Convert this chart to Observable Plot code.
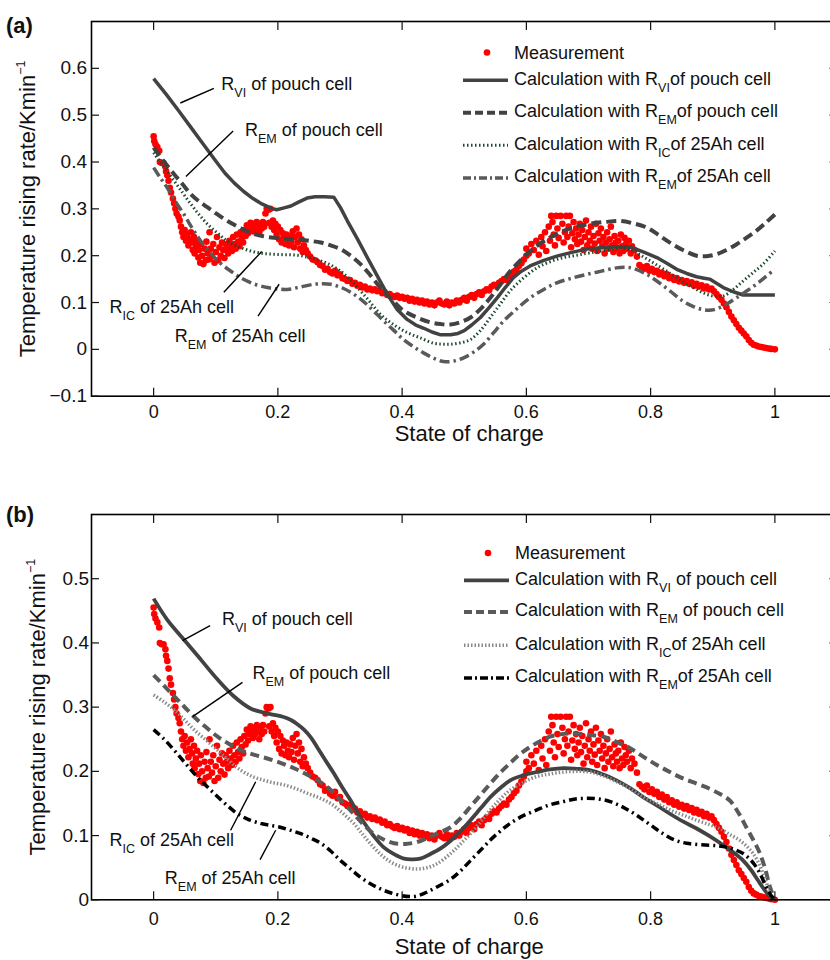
<!DOCTYPE html>
<html><head><meta charset="utf-8">
<script src="https://cdn.jsdelivr.net/npm/d3@7"></script>
<script src="https://cdn.jsdelivr.net/npm/@observablehq/plot@0.6"></script>
<style>
html,body{margin:0;padding:0;background:#fff;overflow:hidden;width:830px;height:960px}
#chart{position:relative;width:850px}
#chart svg{display:block;max-width:none}
</style></head><body><div id="chart"></div>
<script>
// ---------- data ----------
const X_TICKS = [0, 0.2, 0.4, 0.6, 0.8, 1];
const Y_TICKS_A = [-0.1, 0, 0.1, 0.2, 0.3, 0.4, 0.5, 0.6];
const Y_TICKS_B = [0, 0.1, 0.2, 0.3, 0.4, 0.5];
const X_LABEL = "State of charge";
const Y_LABEL = "Temperature rising rate/Kmin^{−1}";
const PANEL_LABELS = ["(a)", "(b)"];
const LEGEND_A = ["Measurement", "Calculation with R_{VI}of pouch cell", "Calculation with R_{EM}of pouch cell", "Calculation with R_{IC}of 25Ah cell", "Calculation with R_{EM}of 25Ah cell"];
const LEGEND_B = ["Measurement", "Calculation with R_{VI} of pouch cell", "Calculation with R_{EM} of pouch cell", "Calculation with R_{IC}of 25Ah cell", "Calculation with R_{EM}of 25Ah cell"];

// measured temperature rising rate (same test, shown in both panels)
const measurement = [
[0.000,0.455],[0.001,0.445],[0.003,0.438],[0.006,0.432],[0.009,0.424],[0.010,0.400],[0.013,0.398],[0.016,0.398],[0.019,0.390],[0.020,0.380],[0.022,0.372],[0.024,0.360],[0.026,0.345],[0.028,0.335],[0.031,0.322],[0.033,0.312],[0.035,0.300],[0.037,0.290],[0.040,0.283],[0.042,0.275],
[0.044,0.262],[0.046,0.250],[0.048,0.240],[0.050,0.255],[0.052,0.232],[0.054,0.245],[0.056,0.222],[0.058,0.235],[0.060,0.250],[0.062,0.228],[0.063,0.212],[0.065,0.240],[0.066,0.205],[0.068,0.220],[0.070,0.232],[0.072,0.196],[0.073,0.212],[0.075,0.185],[0.076,0.225],[0.078,0.200],[0.080,0.182],[0.082,0.215],[0.084,0.190],[0.085,0.230],[0.087,0.205],[0.089,0.192],[0.090,0.250],[0.092,0.215],[0.094,0.198],[0.096,0.225],[0.098,0.185],[0.100,0.208],[0.102,0.240],[0.104,0.190],[0.106,0.218],[0.108,0.200],[0.110,0.228],[0.112,0.212],[0.114,0.195],[0.116,0.225],[0.118,0.215],[0.120,0.205],[0.122,0.232],[0.124,0.220],[0.126,0.210],[0.128,0.240],[0.130,0.225],
[0.132,0.215],[0.134,0.245],[0.136,0.230],[0.138,0.220],[0.140,0.250],[0.142,0.238],[0.144,0.228],[0.146,0.255],[0.148,0.242],[0.150,0.265],[0.152,0.248],[0.154,0.258],[0.156,0.270],[0.158,0.262],[0.160,0.252],[0.162,0.268],[0.164,0.258],[0.166,0.272],[0.168,0.262],[0.170,0.250],[0.172,0.268],[0.174,0.258],[0.176,0.272],[0.178,0.262],[0.180,0.290],[0.182,0.300],[0.185,0.298],[0.188,0.300],[0.186,0.270],[0.190,0.262],[0.192,0.275],[0.194,0.255],[0.196,0.268],[0.198,0.245],[0.200,0.262],[0.202,0.235],[0.204,0.255],[0.206,0.228],[0.208,0.248],[0.210,0.240],[0.212,0.225],[0.214,0.245],[0.216,0.232],[0.218,0.222],[0.220,0.242],[0.222,0.230],[0.224,0.252],[0.226,0.218],[0.228,0.240],[0.230,0.258],[0.232,0.228],[0.234,0.245],[0.236,0.215],[0.238,0.235],[0.240,0.208],[0.242,0.222],[0.245,0.212],[0.248,0.205],
[0.252,0.198],[0.256,0.192],[0.260,0.190],[0.264,0.186],[0.268,0.180],[0.272,0.178],[0.276,0.170],[0.280,0.172],[0.284,0.165],[0.288,0.162],[0.292,0.168],[0.296,0.158],[0.300,0.160],[0.304,0.152],[0.308,0.150],[0.312,0.146],[0.316,0.148],[0.320,0.140],[0.324,0.142],[0.328,0.136],[0.332,0.138],[0.336,0.132],[0.340,0.134],[0.344,0.128],[0.348,0.130],[0.352,0.126],[0.356,0.128],[0.360,0.124],[0.364,0.125],[0.368,0.120],[0.372,0.122],[0.376,0.116],[0.380,0.118],[0.384,0.114],[0.388,0.112],[0.392,0.115],[0.396,0.110],[0.400,0.112],[0.404,0.108],[0.408,0.110],[0.412,0.104],[0.416,0.108],[0.420,0.102],[0.424,0.106],[0.428,0.100],[0.432,0.104],[0.436,0.098],[0.440,0.102],[0.444,0.096],[0.448,0.100],
[0.452,0.094],[0.456,0.100],[0.460,0.104],[0.464,0.098],[0.468,0.096],[0.472,0.102],[0.476,0.094],[0.480,0.100],[0.484,0.098],[0.488,0.104],[0.492,0.100],[0.496,0.106],[0.500,0.110],[0.504,0.104],[0.508,0.112],[0.512,0.116],[0.516,0.110],[0.520,0.118],[0.524,0.122],[0.528,0.116],[0.532,0.124],[0.536,0.128],[0.540,0.126],[0.544,0.134],[0.548,0.138],[0.552,0.136],[0.556,0.142],[0.560,0.146],[0.564,0.150],[0.568,0.148],[0.572,0.156],[0.576,0.160],[0.580,0.166],[0.584,0.170],[0.588,0.178],[0.592,0.184],[0.596,0.192],[0.600,0.200],
[0.600,0.215],[0.604,0.205],[0.608,0.225],[0.612,0.212],[0.616,0.232],[0.620,0.202],[0.624,0.240],[0.626,0.220],[0.630,0.250],[0.632,0.210],[0.636,0.262],[0.638,0.232],[0.640,0.285],[0.642,0.272],[0.644,0.245],[0.646,0.222],[0.648,0.285],[0.650,0.258],[0.652,0.238],[0.655,0.285],[0.658,0.268],[0.660,0.228],[0.662,0.250],[0.664,0.285],[0.666,0.240],[0.668,0.262],[0.670,0.285],[0.672,0.218],[0.674,0.248],[0.676,0.272],[0.678,0.235],[0.680,0.258],[0.682,0.225],[0.684,0.245],[0.686,0.268],[0.688,0.230],[0.690,0.255],[0.692,0.212],[0.694,0.240],[0.696,0.275],[0.698,0.222],[0.700,0.250],[0.702,0.232],[0.704,0.262],[0.706,0.215],[0.708,0.242],[0.710,0.226],[0.712,0.268],[0.714,0.210],[0.716,0.248],[0.718,0.232],[0.720,0.258],[0.722,0.220],[0.724,0.240],[0.726,0.205],[0.728,0.228],[0.730,0.250],[0.732,0.215],[0.734,0.235],[0.736,0.262],[0.738,0.222],[0.740,0.208],[0.742,0.242],[0.744,0.228],[0.746,0.215],[0.748,0.232],[0.750,0.205],[0.752,0.245],[0.754,0.220],[0.756,0.210],[0.758,0.238],[0.760,0.225],[0.762,0.215],[0.765,0.232],[0.768,0.205],[0.770,0.220],[0.774,0.212],[0.778,0.198],
[0.782,0.180],[0.786,0.176],[0.790,0.172],[0.794,0.178],[0.798,0.168],[0.802,0.172],[0.806,0.165],[0.810,0.168],[0.814,0.160],[0.818,0.164],[0.822,0.156],[0.826,0.160],[0.830,0.152],[0.834,0.155],[0.838,0.148],[0.842,0.152],[0.846,0.145],[0.850,0.148],[0.854,0.142],[0.858,0.146],[0.862,0.140],[0.866,0.143],[0.870,0.136],[0.874,0.140],[0.878,0.134],[0.882,0.137],[0.886,0.130],[0.890,0.134],[0.894,0.128],[0.898,0.130],[0.902,0.124],[0.906,0.118],[0.910,0.112],[0.914,0.106],
[0.918,0.098],[0.922,0.090],[0.926,0.080],[0.930,0.070],[0.934,0.062],[0.938,0.054],[0.942,0.046],[0.946,0.040],[0.950,0.034],[0.954,0.028],[0.958,0.020],[0.962,0.014],[0.966,0.010],[0.970,0.008],[0.974,0.006],[0.978,0.005],[0.982,0.004],[0.986,0.003],[0.990,0.002],[0.994,0.001],[1.000,0.000]
];

// panel (a) calculations
const aRviPouch = [[0,0.578],[0.02,0.545],[0.04,0.510],[0.06,0.474],[0.08,0.438],[0.10,0.402],[0.115,0.376],[0.13,0.355],[0.145,0.337],[0.16,0.322],[0.175,0.310],[0.19,0.301],[0.198,0.298],[0.21,0.302],[0.221,0.306],[0.234,0.315],[0.247,0.323],[0.26,0.326],[0.275,0.326],[0.29,0.325],[0.301,0.302],[0.312,0.274],[0.328,0.236],[0.344,0.196],[0.36,0.157],[0.376,0.118],[0.392,0.085],[0.408,0.064],[0.422,0.052],[0.435,0.045],[0.448,0.037],[0.462,0.031],[0.478,0.031],[0.49,0.034],[0.5,0.040],[0.512,0.052],[0.526,0.068],[0.540,0.089],[0.553,0.110],[0.566,0.132],[0.579,0.153],[0.592,0.167],[0.606,0.178],[0.628,0.190],[0.649,0.199],[0.673,0.207],[0.697,0.214],[0.718,0.217],[0.740,0.219],[0.767,0.219],[0.790,0.207],[0.810,0.196],[0.826,0.184],[0.842,0.171],[0.858,0.162],[0.874,0.155],[0.886,0.152],[0.895,0.150],[0.906,0.141],[0.917,0.132],[0.933,0.123],[0.949,0.116],[0.970,0.116],[1.000,0.116]];
const aRemPouch = [[0,0.431],[0.016,0.402],[0.033,0.374],[0.047,0.352],[0.060,0.331],[0.073,0.316],[0.087,0.303],[0.103,0.288],[0.119,0.274],[0.137,0.261],[0.156,0.249],[0.175,0.242],[0.194,0.238],[0.212,0.236],[0.231,0.235],[0.250,0.232],[0.269,0.228],[0.285,0.222],[0.301,0.214],[0.317,0.200],[0.333,0.182],[0.349,0.158],[0.365,0.132],[0.384,0.106],[0.403,0.082],[0.424,0.068],[0.445,0.058],[0.462,0.054],[0.478,0.053],[0.494,0.058],[0.510,0.068],[0.526,0.086],[0.542,0.110],[0.558,0.138],[0.574,0.167],[0.595,0.196],[0.617,0.221],[0.638,0.239],[0.660,0.253],[0.681,0.262],[0.702,0.268],[0.727,0.272],[0.751,0.274],[0.772,0.269],[0.794,0.260],[0.812,0.245],[0.831,0.228],[0.852,0.212],[0.874,0.200],[0.890,0.199],[0.906,0.203],[0.922,0.212],[0.938,0.224],[0.954,0.238],[0.970,0.253],[0.985,0.270],[1.0,0.288]];
const aRic25Ah = [[0,0.420],[0.016,0.390],[0.033,0.360],[0.047,0.334],[0.060,0.310],[0.073,0.288],[0.087,0.267],[0.103,0.248],[0.119,0.231],[0.137,0.219],[0.156,0.210],[0.175,0.205],[0.194,0.203],[0.212,0.202],[0.231,0.201],[0.250,0.196],[0.269,0.189],[0.285,0.180],[0.301,0.167],[0.317,0.148],[0.333,0.125],[0.349,0.100],[0.365,0.075],[0.387,0.052],[0.408,0.036],[0.430,0.024],[0.451,0.013],[0.465,0.011],[0.478,0.011],[0.494,0.014],[0.510,0.021],[0.526,0.040],[0.542,0.068],[0.558,0.097],[0.574,0.125],[0.595,0.152],[0.617,0.174],[0.638,0.187],[0.660,0.196],[0.681,0.201],[0.702,0.206],[0.729,0.212],[0.756,0.217],[0.778,0.205],[0.799,0.189],[0.820,0.172],[0.842,0.153],[0.863,0.136],[0.884,0.121],[0.900,0.114],[0.917,0.114],[0.933,0.128],[0.949,0.146],[0.965,0.164],[0.981,0.182],[1.0,0.210]];
const aRem25Ah = [[0,0.388],[0.011,0.366],[0.022,0.345],[0.035,0.316],[0.049,0.288],[0.062,0.259],[0.076,0.231],[0.090,0.208],[0.103,0.189],[0.121,0.170],[0.140,0.153],[0.161,0.140],[0.183,0.132],[0.199,0.129],[0.215,0.128],[0.236,0.133],[0.258,0.139],[0.272,0.140],[0.285,0.139],[0.304,0.131],[0.322,0.118],[0.338,0.102],[0.354,0.082],[0.371,0.060],[0.387,0.040],[0.403,0.020],[0.419,0.005],[0.435,-0.008],[0.451,-0.019],[0.467,-0.026],[0.483,-0.025],[0.499,-0.018],[0.515,-0.006],[0.531,0.011],[0.547,0.035],[0.563,0.060],[0.585,0.087],[0.606,0.110],[0.628,0.128],[0.649,0.142],[0.673,0.152],[0.697,0.160],[0.721,0.167],[0.745,0.174],[0.760,0.175],[0.772,0.173],[0.791,0.162],[0.810,0.146],[0.831,0.125],[0.852,0.103],[0.868,0.092],[0.884,0.085],[0.898,0.084],[0.911,0.089],[0.924,0.098],[0.938,0.110],[0.954,0.124],[0.970,0.139],[0.985,0.155],[1.0,0.171]];

// panel (b) calculations
const bRviPouch = [[0,0.469],[0.022,0.436],[0.049,0.405],[0.076,0.374],[0.103,0.343],[0.129,0.317],[0.156,0.298],[0.175,0.292],[0.194,0.288],[0.208,0.285],[0.221,0.280],[0.232,0.273],[0.242,0.265],[0.253,0.253],[0.263,0.238],[0.276,0.218],[0.290,0.197],[0.303,0.176],[0.317,0.155],[0.330,0.133],[0.344,0.113],[0.357,0.096],[0.370,0.082],[0.387,0.071],[0.403,0.064],[0.416,0.063],[0.429,0.064],[0.445,0.071],[0.462,0.080],[0.478,0.092],[0.494,0.107],[0.510,0.124],[0.526,0.142],[0.542,0.160],[0.558,0.174],[0.574,0.186],[0.595,0.194],[0.617,0.199],[0.638,0.203],[0.660,0.205],[0.681,0.204],[0.702,0.202],[0.724,0.195],[0.745,0.186],[0.767,0.174],[0.788,0.160],[0.810,0.147],[0.831,0.134],[0.852,0.122],[0.874,0.111],[0.895,0.099],[0.917,0.085],[0.933,0.074],[0.949,0.061],[0.962,0.046],[0.973,0.030],[0.983,0.016],[0.992,0.005],[1.0,0]];
const bRemPouch = [[0,0.350],[0.017,0.333],[0.033,0.317],[0.049,0.301],[0.065,0.285],[0.084,0.269],[0.103,0.254],[0.121,0.243],[0.140,0.233],[0.161,0.226],[0.183,0.220],[0.202,0.214],[0.221,0.207],[0.237,0.200],[0.253,0.192],[0.269,0.183],[0.285,0.171],[0.303,0.153],[0.322,0.134],[0.338,0.117],[0.354,0.103],[0.370,0.094],[0.387,0.088],[0.405,0.087],[0.424,0.090],[0.440,0.096],[0.456,0.103],[0.478,0.113],[0.494,0.127],[0.510,0.145],[0.526,0.163],[0.542,0.181],[0.558,0.198],[0.574,0.213],[0.590,0.227],[0.606,0.238],[0.622,0.247],[0.638,0.254],[0.657,0.258],[0.676,0.259],[0.700,0.257],[0.724,0.254],[0.745,0.246],[0.767,0.236],[0.788,0.223],[0.810,0.210],[0.831,0.199],[0.852,0.189],[0.874,0.181],[0.895,0.173],[0.911,0.165],[0.927,0.155],[0.941,0.136],[0.954,0.113],[0.966,0.092],[0.976,0.072],[0.985,0.046],[0.992,0.020],[1.0,0]];
const bRic25Ah = [[0,0.319],[0.017,0.308],[0.033,0.296],[0.049,0.281],[0.065,0.265],[0.084,0.249],[0.103,0.233],[0.121,0.217],[0.140,0.202],[0.159,0.192],[0.178,0.186],[0.194,0.182],[0.210,0.179],[0.229,0.173],[0.247,0.166],[0.266,0.159],[0.285,0.150],[0.303,0.136],[0.322,0.119],[0.338,0.100],[0.354,0.082],[0.370,0.067],[0.387,0.056],[0.405,0.050],[0.424,0.048],[0.440,0.050],[0.456,0.056],[0.478,0.072],[0.494,0.087],[0.510,0.103],[0.526,0.121],[0.542,0.140],[0.558,0.157],[0.574,0.171],[0.595,0.183],[0.617,0.192],[0.638,0.196],[0.660,0.199],[0.681,0.200],[0.702,0.199],[0.724,0.193],[0.745,0.184],[0.767,0.173],[0.788,0.160],[0.810,0.150],[0.831,0.140],[0.852,0.132],[0.874,0.124],[0.895,0.117],[0.911,0.111],[0.927,0.102],[0.943,0.093],[0.955,0.083],[0.965,0.072],[0.974,0.057],[0.981,0.041],[0.987,0.025],[0.992,0.009],[1.0,0]];
const bRem25Ah = [[0,0.265],[0.017,0.250],[0.033,0.233],[0.049,0.215],[0.065,0.197],[0.081,0.181],[0.097,0.166],[0.116,0.149],[0.135,0.134],[0.153,0.125],[0.172,0.119],[0.188,0.116],[0.204,0.113],[0.221,0.108],[0.237,0.103],[0.253,0.096],[0.269,0.088],[0.285,0.076],[0.301,0.061],[0.317,0.048],[0.333,0.035],[0.349,0.025],[0.365,0.017],[0.381,0.011],[0.397,0.007],[0.411,0.005],[0.424,0.006],[0.440,0.012],[0.456,0.020],[0.478,0.032],[0.494,0.045],[0.510,0.061],[0.526,0.077],[0.542,0.093],[0.558,0.107],[0.574,0.119],[0.595,0.131],[0.617,0.140],[0.638,0.148],[0.660,0.153],[0.679,0.157],[0.697,0.158],[0.716,0.157],[0.735,0.153],[0.756,0.144],[0.777,0.132],[0.799,0.117],[0.820,0.103],[0.839,0.093],[0.858,0.088],[0.877,0.086],[0.895,0.085],[0.909,0.084],[0.922,0.082],[0.936,0.078],[0.949,0.072],[0.960,0.063],[0.970,0.051],[0.978,0.037],[0.986,0.020],[0.993,0.008],[1.0,0]];

// annotations (text anchor and leader lines, in data units)
const annotationsA = [
  {text: "R_{VI} of pouch cell", x: 0.109, y: 0.565},
  {text: "R_{EM} of pouch cell", x: 0.147, y: 0.467},
  {text: "R_{IC} of 25Ah cell", x: -0.071, y: 0.090},
  {text: "R_{EM} of 25Ah cell", x: 0.034, y: 0.028}
];
const leadersA = [
  {x1: 0.043, y1: 0.526, x2: 0.097, y2: 0.557},
  {x1: 0.052, y1: 0.369, x2: 0.128, y2: 0.466},
  {x1: 0.113, y1: 0.122, x2: 0.174, y2: 0.209},
  {x1: 0.168, y1: 0.071, x2: 0.202, y2: 0.139}
];
const annotationsB = [
  {text: "R_{VI} of pouch cell", x: 0.110, y: 0.4375},
  {text: "R_{EM} of pouch cell", x: 0.159, y: 0.353},
  {text: "R_{IC} of 25Ah cell", x: -0.071, y: 0.093},
  {text: "R_{EM} of 25Ah cell", x: 0.018, y: 0.033}
];
const leadersB = [
  {x1: 0.0466, y1: 0.4036, x2: 0.0909, y2: 0.427},
  {x1: 0.0627, y1: 0.2853, x2: 0.143, y2: 0.3385},
  {x1: 0.124, y1: 0.1083, x2: 0.1643, y2: 0.1838},
  {x1: 0.1713, y1: 0.0625, x2: 0.1965, y2: 0.1083}
];

// ---------- rendering ----------
const FONT = "'Liberation Sans', Arial, Helvetica, sans-serif";
const SVGNS = "http://www.w3.org/2000/svg";
const toRows = pairs => pairs.map(([x, y]) => ({x, y}));
const fmtTick = d => (d < 0 ? "\u2212" : "") + String(Math.abs(d));

// turn R_{VI} / ^{−1} markup into tspans
function richText(el, subSize, subShift) {
  const s = el.textContent;
  if (!/[_^]\{/.test(s)) return;
  const re = /([_^])\{([^}]*)\}/g;
  const parts = []; let last = 0, m;
  while ((m = re.exec(s))) {
    if (m.index > last) parts.push({t: s.slice(last, m.index)});
    parts.push({t: m[2], kind: m[1]});
    last = re.lastIndex;
  }
  if (last < s.length) parts.push({t: s.slice(last)});
  while (el.firstChild) el.removeChild(el.firstChild);
  let shift = 0;
  for (const p of parts) {
    const ts = document.createElementNS(SVGNS, "tspan");
    const target = p.kind === "_" ? subShift : p.kind === "^" ? -subShift * 1.3 : 0;
    if (target - shift !== 0) ts.setAttribute("dy", target - shift);
    shift = target;
    if (p.kind) ts.setAttribute("font-size", subSize);
    ts.textContent = p.t;
    el.appendChild(ts);
  }
}

function makePanel(cfg) {
  const marks = [
    Plot.dot(toRows(measurement), {x: "x", y: "y", r: 3.3, fill: "#ff0000", stroke: "none"}),
    ...cfg.series.map(s => Plot.line(toRows(s.data), {
      x: "x", y: "y", stroke: s.color, strokeWidth: s.width,
      strokeDasharray: s.dash, curve: s.curve || "catmull-rom", strokeLinecap: "butt"
    })),
    Plot.link(cfg.leaders, {x1: "x1", y1: "y1", x2: "x2", y2: "y2", stroke: "#000", strokeWidth: 1.4}),
    Plot.text(cfg.annotations, {x: "x", y: "y", text: "text", textAnchor: "start", lineAnchor: "middle", fontSize: 18, fill: "#111"}),
    Plot.frame({stroke: "#000", strokeWidth: 1.6}),
    Plot.axisX(X_TICKS, {anchor: "bottom", tickSize: -8, tickPadding: cfg.xPad, tickFormat: fmtTick, fontSize: 18, label: null, strokeWidth: 1.2}),
    Plot.axisX(X_TICKS, {anchor: "top", tickSize: -8, tickFormat: () => "", label: null, strokeWidth: 1.2}),
    Plot.axisY(cfg.yTicks, {anchor: "left", tickSize: -8, tickPadding: cfg.yPad, tickFormat: fmtTick, fontSize: 19, label: null, strokeWidth: 1.2}),
    Plot.axisY(cfg.yTicks, {anchor: "right", tickSize: -8, tickFormat: () => "", label: null, strokeWidth: 1.2}),
    Plot.text([X_LABEL], {frameAnchor: "bottom", text: d => d, dy: cfg.xLabelDy, dx: 5, fontSize: 22, textAnchor: "middle", lineAnchor: "middle", fill: "#111"}),
    Plot.text([Y_LABEL], {frameAnchor: "left", text: d => d, rotate: -90, dx: cfg.yLabelDx, fontSize: 22, textAnchor: "middle", lineAnchor: "middle", fill: "#111"})
  ];
  const svg = Plot.plot({
    width: 850, height: cfg.height,
    marginLeft: 91, marginRight: 13.5, marginTop: cfg.marginTop, marginBottom: cfg.marginBottom,
    x: {domain: [-0.1, 1.1]},
    y: {domain: cfg.yDomain},
    style: {fontFamily: FONT, fontSize: "18px", background: "#fff", color: "#111"},
    marks
  });
  svg.style.display = "block";
  d3.select(svg).selectAll("text").each(function () {
    const fs = parseFloat(this.getAttribute("font-size")) || 18;
    richText(this, fs >= 21 ? 15 : 12.5, 7);
  });

  // legend + panel label overlay
  const g = d3.select(svg).append("g").attr("font-family", FONT).attr("fill", "#111").attr("text-anchor", "start");
  g.append("text").attr("x", 6).attr("y", cfg.panelLabelY).attr("font-size", 22).attr("font-weight", "bold").attr("text-anchor", "start").text(cfg.panelLabel);
  cfg.legendRows.forEach((cy, i) => {
    if (i === 0) {
      g.append("circle").attr("cx", cfg.legendDotX).attr("cy", cy).attr("r", 3.3).attr("fill", "#ff0000");
    } else {
      const s = cfg.series[i - 1];
      g.append("line").attr("x1", cfg.swatchX[0]).attr("x2", cfg.swatchX[1]).attr("y1", cy + 2).attr("y2", cy + 2)
        .attr("stroke", s.color).attr("stroke-width", s.width).attr("stroke-dasharray", s.legendDash || s.dash || null);
    }
    const t = g.append("text").attr("x", cfg.legendTextX).attr("y", cy + 6.4).attr("font-size", 18).attr("text-anchor", "start").text(cfg.legend[i]);
    richText(t.node(), 12.5, 7);
  });
  return svg;
}

const chart = document.getElementById("chart");
chart.appendChild(makePanel({
  height: 470, marginTop: 21, marginBottom: 74.3, yDomain: [-0.1, 0.7], yTicks: Y_TICKS_A,
  xPad: 17, yPad: 12.5, xLabelDy: 37.3, yLabelDx: -64,
  annotations: annotationsA, leaders: leadersA,
  series: [
    {data: aRviPouch, color: "#424242", width: 3.5, curve: "linear"},
    {data: aRemPouch, color: "#424242", width: 4, dash: "10,5", legendDash: "8,4"},
    {data: aRic25Ah, color: "#1f4a2e", width: 3, dash: "1.5,2.5"},
    {data: aRem25Ah, color: "#5a5a5a", width: 3.5, dash: "10,4,2.5,4", legendDash: "8,3,2,3"}
  ],
  panelLabel: PANEL_LABELS[0], panelLabelY: 33,
  legend: LEGEND_A, legendRows: [52.5, 78.3, 110.7, 143.3, 176],
  legendDotX: 487, legendTextX: 514, swatchX: [463, 508]
}));
chart.appendChild(makePanel({
  height: 490, marginTop: 44, marginBottom: 60.7, yDomain: [0, 0.6], yTicks: Y_TICKS_B,
  xPad: 20.4, yPad: 10.5, xLabelDy: 47.5, yLabelDx: -54,
  annotations: annotationsB, leaders: leadersB,
  series: [
    {data: bRviPouch, color: "#424242", width: 3.8},
    {data: bRemPouch, color: "#5a5a5a", width: 4, dash: "9,5", legendDash: "8,4"},
    {data: bRic25Ah, color: "#8a8a8a", width: 3.5, dash: "1.5,2"},
    {data: bRem25Ah, color: "#000", width: 3.5, dash: "8,4,2,4", legendDash: "8,3,2,3"}
  ],
  panelLabel: PANEL_LABELS[1], panelLabelY: 52,
  legend: LEGEND_B, legendRows: [83, 108.3, 140, 173.3, 206],
  legendDotX: 488, legendTextX: 515, swatchX: [464, 509]
}));
</script></body></html>
